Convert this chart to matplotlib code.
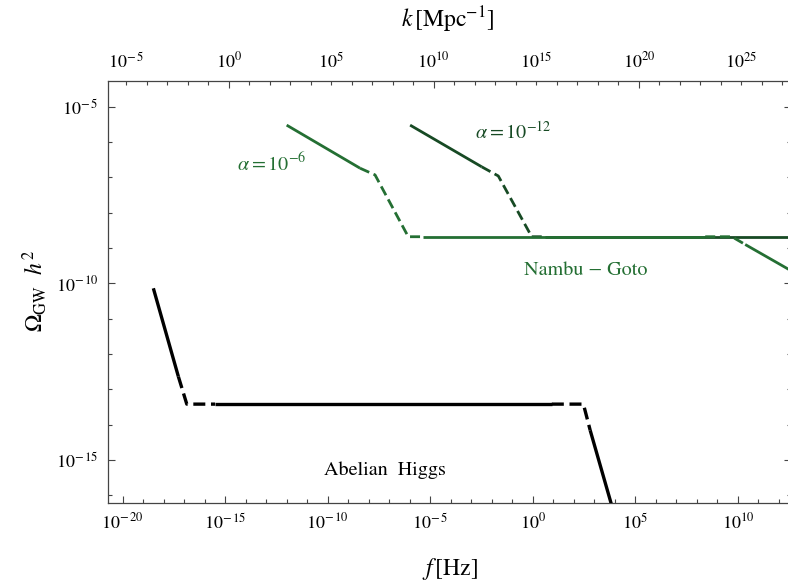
import numpy as np
import matplotlib
matplotlib.use("Agg")
import matplotlib.pyplot as plt
from matplotlib.ticker import FixedLocator, FuncFormatter, NullFormatter

plt.rcParams['font.family'] = ['STIXGeneral', 'DejaVu Serif']
plt.rcParams['mathtext.fontset'] = 'stix'

# values, as log10 exponents
# Abelian Higgs (black)
higgs_solid = [
    ([-18.50, -17.28], [-10.14, -12.64]),
    ([-15.49, 0.93], [-13.42, -13.42]),
    ([2.80, 4.3], [-14.16, -17.2]),
]
higgs_dashed = [
    ([-17.28, -16.87, -15.49], [-12.64, -13.42, -13.42]),
    ([0.93, 2.47, 2.80], [-13.42, -13.42, -14.16]),
]

# Nambu-Goto, alpha = 1e-6 (medium green)
ng6_solid = [
    ([-12.00, -8.42], [-5.52, -6.74]),
    ([-5.35, 8.41], [-8.68, -8.68]),
    ([10.36, 12.8], [-8.90, -9.71]),
]
ng6_dashed = [
    ([-8.42, -7.69, -6.07, -5.35], [-6.74, -6.93, -8.68, -8.68]),
    ([8.41, 9.71, 10.36], [-8.68, -8.68, -8.90]),
]

# Nambu-Goto, alpha = 1e-12 (dark green)
ng12_solid = [
    ([-5.98, -2.49], [-5.52, -6.70]),
    ([0.60, 12.8], [-8.68, -8.68]),
]
ng12_dashed = [
    ([-2.49, -1.68, -0.05, 0.60], [-6.70, -6.96, -8.68, -8.68]),
]

xlim_exp = (-20.71, 12.60)
ylim_exp = (-16.22, -4.27)
k_offset = 14.83   # log10 k[Mpc^-1] = log10 f[Hz] + offset

green = '#246f33'
dark_green = '#174a24'

fig = plt.figure(figsize=(7.88, 5.83), dpi=100)
ax = fig.add_axes([0.1371, 0.1372, 0.8669, 0.7239])


def draw(segs, color, lw, dashed, z):
    for fx, oy in segs:
        fx = 10.0 ** np.array(fx)
        oy = 10.0 ** np.array(oy)
        if dashed:
            ax.plot(fx, oy, color=color, lw=lw, dashes=(3.6, 1.7),
                    solid_capstyle='butt', dash_capstyle='butt', zorder=z)
        else:
            ax.plot(fx, oy, color=color, lw=lw, solid_capstyle='butt', zorder=z)


draw(ng12_solid, dark_green, 2.0, False, 2)
draw(ng12_dashed, dark_green, 2.0, True, 2)
draw(ng6_solid, green, 2.0, False, 3)
draw(ng6_dashed, green, 2.0, True, 3)
draw(higgs_solid, 'black', 2.4, False, 4)
draw(higgs_dashed, 'black', 2.4, True, 4)

ax.set_xscale('log')
ax.set_yscale('log')
ax.set_xlim(10.0 ** xlim_exp[0], 10.0 ** xlim_exp[1])
ax.set_ylim(10.0 ** ylim_exp[0], 10.0 ** ylim_exp[1])


def exp_text(e):
    if e < 0:
        return r'$10^{-\,%d}$' % (-e)
    return r'$10^{%d}$' % e


def pow_label(v, pos):
    return exp_text(int(round(np.log10(v))))


def pow5_label(v, pos):
    e = int(round(np.log10(v)))
    return exp_text(e) if e % 5 == 0 else ''


ax.xaxis.set_major_locator(FixedLocator(10.0 ** np.arange(-20, 15, 5)))
ax.xaxis.set_minor_locator(FixedLocator(10.0 ** np.arange(-21, 14)))
ax.xaxis.set_major_formatter(FuncFormatter(pow_label))
ax.xaxis.set_minor_formatter(NullFormatter())
ax.yaxis.set_major_locator(FixedLocator(10.0 ** np.arange(-15, -4, 5)))
ax.yaxis.set_minor_locator(FixedLocator(10.0 ** np.arange(-17, -3)))
ax.yaxis.set_major_formatter(FuncFormatter(pow_label))
ax.yaxis.set_minor_formatter(NullFormatter())

frame = '#444444'
ax.tick_params(which='both', direction='in', top=False, right=True,
               color=frame, width=0.8, labelsize=13, pad=7)
ax.tick_params(which='major', length=5)
ax.tick_params(which='minor', length=3)
for s in ax.spines.values():
    s.set_color(frame)
    s.set_linewidth(0.9)

ax2 = ax.twiny()
ax2.set_xscale('log')
ax2.set_xlim(10.0 ** (xlim_exp[0] + k_offset), 10.0 ** (xlim_exp[1] + k_offset))
ax2.xaxis.set_major_locator(FixedLocator(10.0 ** np.arange(-10, 31, 10)))
ax2.xaxis.set_minor_locator(FixedLocator(10.0 ** np.arange(-6, 28)))
ax2.xaxis.set_major_formatter(FuncFormatter(pow_label))
ax2.xaxis.set_minor_formatter(FuncFormatter(pow5_label))
ax2.tick_params(which='both', direction='in', color=frame, width=0.8,
                labelsize=13, pad=7)
ax2.tick_params(which='major', length=5)
ax2.tick_params(which='minor', length=3)
for s in ax2.spines.values():
    s.set_visible(False)

ax.text(10.0 ** -12.71, 10.0 ** -6.59, r'$\alpha = 10^{-6}$', color=green,
        fontsize=14.5, ha='center', va='center')
ax.text(10.0 ** -0.96, 10.0 ** -5.69, r'$\alpha = 10^{-12}$', color=dark_green,
        fontsize=14.5, ha='center', va='center')
ax.text(10.0 ** 2.6, 10.0 ** -9.63, 'Nambu \u2212 Goto', color=green,
        fontsize=14.5, ha='center', va='center')
ax.text(10.0 ** -7.2, 10.0 ** -15.29, 'Abelian  Higgs', color='black',
        fontsize=14.5, ha='center', va='center')

fig.text(0.571, 0.024, r'$f\,$[Hz]', fontsize=17, ha='center', va='center')
fig.text(0.5685, 0.966, r'$k\,$[Mpc$^{-1}$]', fontsize=17, ha='center', va='center')
fig.text(0.0444, 0.5009, r'$\Omega_{\rm GW}\ \ h^2$', fontsize=17,
         ha='center', va='center', rotation=90)

fig.savefig('out.png', dpi=100)
